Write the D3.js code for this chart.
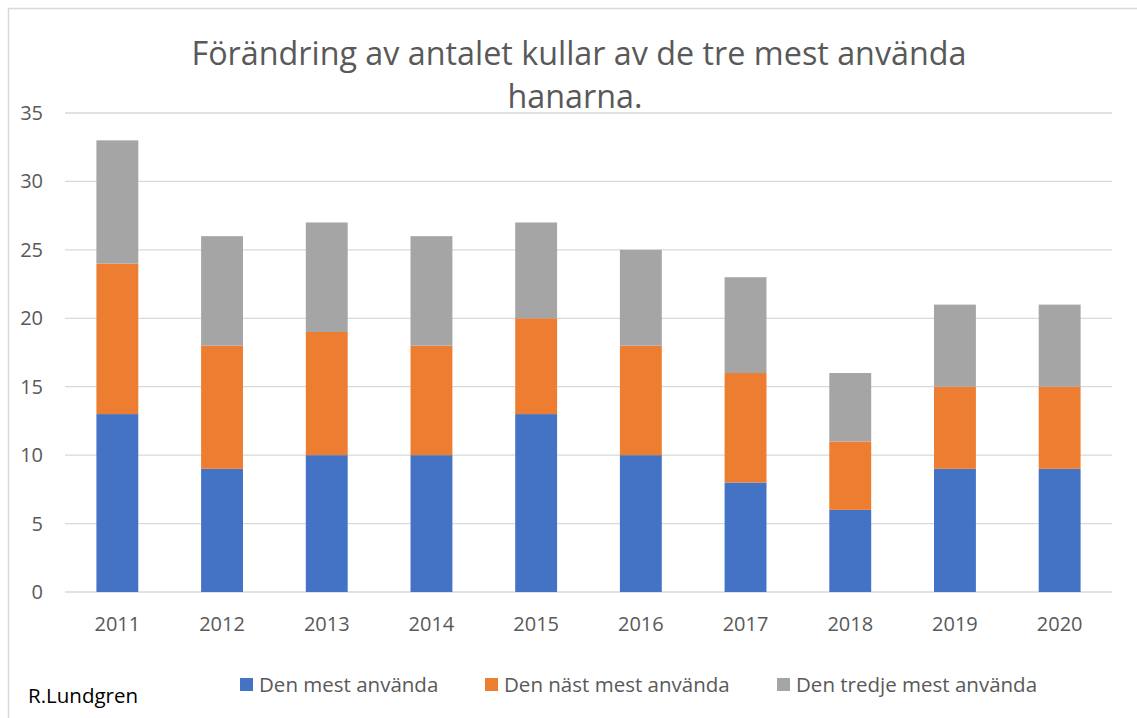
<!DOCTYPE html>
<html>
<head>
<meta charset="utf-8">
<script src="https://cdn.jsdelivr.net/npm/d3@7"></script>
<style>
  body { margin: 0; background: #fff; }
  text { font-family: "Open Sans", "Noto Sans", sans-serif; }
</style>
</head>
<body>
<svg id="chart" width="1137" height="718"></svg>
<script>
let years = ["2011", "2012", "2013", "2014", "2015", "2016", "2017", "2018", "2019", "2020"];
let mest = [13, 9, 10, 10, 13, 10, 8, 6, 9, 9];
let nastMest = [11, 9, 9, 8, 7, 8, 8, 5, 6, 6];
let tredjeMest = [9, 8, 8, 8, 7, 7, 7, 5, 6, 6];
let seriesNames = ["Den mest använda", "Den näst mest använda", "Den tredje mest använda"];
let yTicks = [0, 5, 10, 15, 20, 25, 30, 35];

let svg = d3.select("svg#chart");
let margin = { "top": 113, "right": 25, "bottom": 126, "left": 65 };
let width = +svg.attr("width");
let height = +svg.attr("height");
let chartWidth = width - margin.left - margin.right;
let chartHeight = height - margin.top - margin.bottom;

// outer frame (cut off at right/bottom like the screenshot)
svg.append("rect")
  .attr("x", 8.5).attr("y", 8.5)
  .attr("width", 1140).attr("height", 720)
  .attr("fill", "none")
  .attr("stroke", "#d9d9d9")
  .attr("stroke-width", 1.5);

let data = years.map(function(y, i) {
  return { year: y, a: mest[i], b: nastMest[i], c: tredjeMest[i] };
});
let stacked = d3.stack().keys(["a", "b", "c"])(data);
let colors = ["#4472c4", "#ed7d31", "#a5a5a5"];

let xScale = d3.scaleBand().domain(years).range([0, chartWidth]).paddingInner(0.6).paddingOuter(0.3);
let yScale = d3.scaleLinear().domain([0, 35]).range([chartHeight, 0]);

let g = svg.append("g").attr("transform", "translate(" + margin.left + "," + margin.top + ")");

// gridlines
g.selectAll("line.grid").data(yTicks).enter().append("line")
  .attr("x1", 0).attr("x2", chartWidth)
  .attr("y1", d => yScale(d)).attr("y2", d => yScale(d))
  .attr("stroke", "#d9d9d9")
  .attr("stroke-width", 1.3);

// bars
g.selectAll("g.series").data(stacked).enter().append("g")
  .attr("fill", (d, i) => colors[i])
  .selectAll("rect").data(d => d).enter().append("rect")
  .attr("x", d => xScale(d.data.year))
  .attr("width", xScale.bandwidth())
  .attr("y", d => yScale(d[1]))
  .attr("height", d => yScale(d[0]) - yScale(d[1]));

// y axis labels
g.selectAll("text.ylab").data(yTicks).enter().append("text")
  .attr("x", -22)
  .attr("y", d => yScale(d))
  .attr("dy", "0.35em")
  .attr("text-anchor", "end")
  .attr("fill", "#595959")
  .attr("font-size", 20)
  .text(d => d);

// x axis labels
g.selectAll("text.xlab").data(years).enter().append("text")
  .attr("x", d => xScale(d) + xScale.bandwidth() / 2)
  .attr("y", chartHeight + 39)
  .attr("text-anchor", "middle")
  .attr("fill", "#595959")
  .attr("font-size", 20)
  .text(d => d);

// title
svg.append("text")
  .attr("x", 579).attr("y", 65)
  .attr("text-anchor", "middle")
  .attr("fill", "#595959")
  .attr("font-size", 32.3)
  .text("Förändring av antalet kullar av de tre mest använda");
svg.append("text")
  .attr("x", 575).attr("y", 108)
  .attr("text-anchor", "middle")
  .attr("fill", "#595959")
  .attr("font-size", 32.3)
  .text("hanarna.");

// legend
let legendX = [240, 485, 777];
let legend = svg.selectAll("g.legend").data(seriesNames).enter().append("g")
  .attr("transform", (d, i) => "translate(" + legendX[i] + ",678)");
legend.append("rect")
  .attr("width", 13).attr("height", 13)
  .attr("fill", (d, i) => colors[i]);
legend.append("text")
  .attr("x", 19).attr("y", 7)
  .attr("dy", "0.35em")
  .attr("fill", "#595959")
  .attr("font-size", 20.5)
  .text(d => d);

// author
svg.append("text")
  .attr("x", 28).attr("y", 703)
  .attr("fill", "#000")
  .attr("font-size", 20.5)
  .text("R.Lundgren");
</script>
</body>
</html>
